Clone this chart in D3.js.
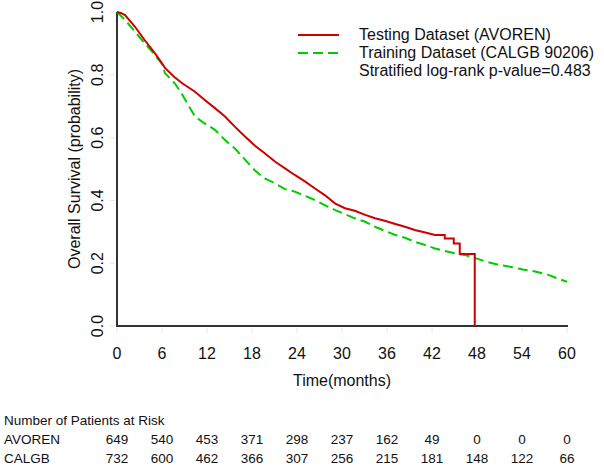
<!doctype html>
<html>
<head>
    <style>
        body {
            margin: 0;
            background: #fff;
        }

        text {
            font-family: 'Liberation Sans', Arial, sans-serif;
            fill: #111;
        }

        text.tick {
            font-size: 16px;
        }

        text.label {
            font-size: 16px;
        }

        text.legend {
            font-size: 16px;
        }

        text.risk {
            font-size: 13.5px;
        }

        line.axis {
            stroke: #333;
            stroke-width: 2;
        }

        line.tickmark {
            stroke: #e6e6e6;
            stroke-width: 1;
        }

        path.curve {
            fill: none;
            stroke-width: 2;
        }
    </style>
    <script src="https://d3js.org/d3.v7.min.js"></script>
</head>
<body>
<svg width="604" height="466"></svg>
<script>
    // Kaplan-Meier estimates
    const avorenTime = [0, 0.5, 1.07, 2.4, 3.7, 5.07, 5.95, 6.4, 7.6, 8.7, 10.4, 11.7, 13.1, 14.4, 15.7, 17.1,
        18.4, 19.7, 21.1, 22.4, 23.7, 25.1, 26.4, 27.7, 29.1, 30.4, 31.7, 33.1, 34.4, 35.7, 37.1, 38.4,
        39.7, 41.1, 42.4, 43.7, 43.7, 44.9, 44.9, 45.7, 45.7, 47.7, 47.7]
    const avorenSurv = [1.0, 0.997, 0.99, 0.953, 0.91, 0.868, 0.838, 0.822, 0.794, 0.773, 0.746, 0.72, 0.693, 0.667, 0.635, 0.603,
        0.574, 0.55, 0.523, 0.502, 0.481, 0.46, 0.438, 0.417, 0.39, 0.375, 0.367, 0.354, 0.343, 0.335, 0.325, 0.316,
        0.306, 0.298, 0.29, 0.29, 0.279, 0.279, 0.263, 0.263, 0.229, 0.229, 0]

    const calgbTime = [0, 1.07, 2.4, 3.7, 5.07, 5.95, 6.4, 7.7, 8.6, 9.5, 10.4, 11.7, 13.1, 14.4, 15.7, 17.1,
        18.4, 19.7, 21.1, 22.4, 23.7, 25.1, 26.4, 27.7, 29.1, 30.4, 31.7, 33.1, 34.4, 35.7, 37.1, 38.4,
        39.7, 41.1, 42.4, 43.7, 45.1, 46.4, 47.7, 49.2, 51, 52.4, 54.1, 55.9, 57.6, 59, 60]
    const calgbSurv = [1.0, 0.975, 0.937, 0.9, 0.863, 0.836, 0.805, 0.773, 0.741, 0.704, 0.667, 0.645, 0.624, 0.592, 0.566, 0.529,
        0.495, 0.47, 0.454, 0.436, 0.428, 0.414, 0.401, 0.385, 0.369, 0.356, 0.343, 0.332, 0.316, 0.303, 0.29, 0.281,
        0.268, 0.258, 0.247, 0.239, 0.231, 0.226, 0.217, 0.205, 0.194, 0.189, 0.18, 0.173, 0.162, 0.149, 0.141]

    const xTicks = [0, 6, 12, 18, 24, 30, 36, 42, 48, 54, 60]
    const yTicks = [0, 0.2, 0.4, 0.6, 0.8, 1.0]

    const riskGroups = ['AVOREN', 'CALGB']
    const riskAvoren = [649, 540, 453, 371, 298, 237, 162, 49, 0, 0, 0]
    const riskCalgb = [732, 600, 462, 366, 307, 256, 215, 181, 148, 122, 66]

    const legendLabels = ['Testing Dataset (AVOREN)', 'Training Dataset (CALGB 90206)', 'Stratified log-rank p-value=0.483']

    const red = '#cd0000'
    const green = '#00cd00'

    const svg = d3.select('svg')

    const xScale = d3.scaleLinear()
        .domain([0, 60])
        .range([117, 567])

    const yScale = d3.scaleLinear()
        .domain([0, 1])
        .range([326, 12])

    // faint tick marks
    svg.selectAll('.xt')
        .data(xTicks)
        .enter()
        .append('line')
        .attr('class', 'tickmark')
        .attr('x1', d => xScale(d))
        .attr('x2', d => xScale(d))
        .attr('y1', yScale(0) + 2)
        .attr('y2', yScale(0) + 7)

    svg.selectAll('.yt')
        .data(yTicks)
        .enter()
        .append('line')
        .attr('class', 'tickmark')
        .attr('x1', xScale(0) - 2)
        .attr('x2', xScale(0) - 7)
        .attr('y1', d => yScale(d))
        .attr('y2', d => yScale(d))

    // axis lines
    svg.append('line')
        .attr('class', 'axis')
        .attr('x1', xScale(0)).attr('x2', xScale(0))
        .attr('y1', yScale(1)).attr('y2', yScale(0) + 1)

    svg.append('line')
        .attr('class', 'axis')
        .attr('x1', xScale(0) - 1).attr('x2', xScale(60) + 1)
        .attr('y1', yScale(0)).attr('y2', yScale(0))

    svg.selectAll('.xl')
        .data(xTicks)
        .enter()
        .append('text')
        .attr('class', 'tick')
        .attr('x', d => xScale(d))
        .attr('y', 359)
        .attr('text-anchor', 'middle')
        .text(d => d)

    svg.selectAll('.yl')
        .data(yTicks)
        .enter()
        .append('text')
        .attr('class', 'tick')
        .attr('transform', d => `translate(103, ${yScale(d)}) rotate(-90)`)
        .attr('text-anchor', 'middle')
        .text(d => d.toFixed(1))

    svg.append('text')
        .attr('class', 'label')
        .attr('x', (xScale(0) + xScale(60)) / 2)
        .attr('y', 386)
        .attr('text-anchor', 'middle')
        .text('Time(months)')

    svg.append('text')
        .attr('class', 'label')
        .attr('transform', `translate(79.5, ${(yScale(0) + yScale(1)) / 2}) rotate(-90)`)
        .attr('text-anchor', 'middle')
        .text('Overall Survival (probability)')

    // curves
    const line = d3.line()
        .x(d => xScale(d[0]))
        .y(d => yScale(d[1]))

    svg.append('path')
        .attr('class', 'curve')
        .attr('d', line(d3.zip(calgbTime, calgbSurv)))
        .attr('stroke', green)
        .attr('stroke-dasharray', '10 5')

    svg.append('path')
        .attr('class', 'curve')
        .attr('d', line(d3.zip(avorenTime, avorenSurv)))
        .attr('stroke', red)

    // legend
    const legend = svg.append('g')
        .attr('transform', 'translate(298, 35)')

    legend.append('line')
        .attr('x1', 0).attr('x2', 41)
        .attr('y1', 0).attr('y2', 0)
        .attr('stroke', red)
        .attr('stroke-width', 2)

    legend.append('line')
        .attr('x1', 0).attr('x2', 41)
        .attr('y1', 18).attr('y2', 18)
        .attr('stroke', green)
        .attr('stroke-width', 2)
        .attr('stroke-dasharray', '10 5')

    legend.selectAll('text')
        .data(legendLabels)
        .enter()
        .append('text')
        .attr('class', 'legend')
        .attr('x', 61)
        .attr('y', (d, i) => 4.5 + i * 18)
        .text(d => d)

    // number at risk table
    svg.append('text')
        .attr('class', 'risk')
        .attr('x', 4)
        .attr('y', 425)
        .text('Number of Patients at Risk')

    const rows = [riskAvoren, riskCalgb]
    const rowY = [444, 462.5]

    riskGroups.forEach((g, r) => {
        svg.append('text')
            .attr('class', 'risk')
            .attr('x', 4)
            .attr('y', rowY[r])
            .text(g)

        svg.selectAll('.r' + r)
            .data(rows[r])
            .enter()
            .append('text')
            .attr('class', 'risk')
            .attr('x', (d, i) => xScale(xTicks[i]))
            .attr('y', rowY[r])
            .attr('text-anchor', 'middle')
            .text(d => d)
    })
</script>
</body>
</html>
